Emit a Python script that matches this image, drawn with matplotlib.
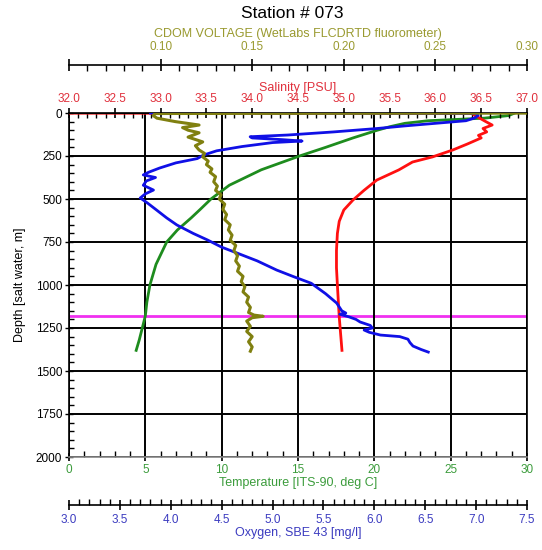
import numpy as np
import matplotlib
matplotlib.use('Agg')
import matplotlib.pyplot as plt
from matplotlib.ticker import MultipleLocator, FixedLocator, FixedFormatter, FormatStrFormatter

plt.rcParams['font.family'] = ['Liberation Sans', 'DejaVu Sans']

# Temperature profile (green)
temp_depth = [0, 15, 30, 45, 60, 80, 100, 145, 200, 250, 330, 420, 500, 560, 610, 680, 750, 880, 1000, 1100, 1180, 1250, 1320, 1380]
temp = [29.2, 28.8, 27.2, 23.5, 22.0, 21.0, 20.2, 18.6, 16.8, 15.1, 12.6, 10.5, 9.3, 8.6, 8.0, 7.1, 6.4, 5.7, 5.3, 5.1, 5.0, 4.8, 4.6, 4.4]

# Salinity profile (red)
sal_depth = [0, 3, 20, 50, 70, 90, 110, 130, 145, 180, 215, 255, 285, 331, 390, 450, 506, 564, 630, 700, 800, 900, 1000, 1185, 1380]
sal = [30.0, 36.4, 36.45, 36.55, 36.62, 36.52, 36.56, 36.47, 36.5, 36.35, 36.19, 35.97, 35.75, 35.6, 35.36, 35.22, 35.1, 35.0, 34.95, 34.93, 34.92, 34.92, 34.93, 34.95, 34.98]

# Oxygen profile (blue)
oxy_depth = [0, 2, 15, 30, 45, 60, 75, 90, 110, 128, 138, 145, 155, 163, 172, 195, 220, 245, 265, 290, 320, 345, 360, 375,
             395, 420, 448, 470, 494, 523, 564, 610, 651, 700, 738, 780, 814, 860, 913, 950, 990, 1050, 1105, 1150, 1163,
             1170, 1185, 1200, 1215, 1235, 1250, 1262, 1275, 1291, 1300, 1315, 1335, 1355, 1375, 1390]
oxy = [3.8, 7.0, 7.02, 6.98, 6.9, 6.6, 6.3, 6.03, 5.6, 5.15, 4.78, 4.8, 5.1, 5.29, 5.0, 4.7, 4.45, 4.32, 4.26, 4.05, 3.89, 3.78, 3.73, 3.85,
       3.76, 3.73, 3.83, 3.75, 3.70, 3.77, 3.86, 3.96, 4.06, 4.22, 4.36, 4.5, 4.65, 4.85, 5.04, 5.2, 5.38, 5.52, 5.63, 5.68, 5.72,
       5.66, 5.75, 5.82, 5.86, 5.96, 5.98, 5.90, 5.95, 6.06, 6.25, 6.33, 6.35, 6.38, 6.46, 6.53]

# CDOM voltage profile (olive)
cdom_depth = [0, 3, 15, 30, 50, 70, 85, 100, 115, 140, 168, 190, 215, 235, 255, 280, 300, 325, 345, 370, 400, 425, 450, 475,
              500, 530, 560, 590, 620, 650, 680, 710, 740, 770, 800, 830, 860, 890, 920, 950, 980, 1010, 1040, 1070, 1100,
              1130, 1160, 1175, 1182, 1190, 1210, 1240, 1270, 1300, 1330, 1360, 1385]
cdom = [0.35, 0.097, 0.096, 0.098, 0.108, 0.121, 0.112, 0.115, 0.121, 0.115, 0.123, 0.119, 0.121, 0.124, 0.123, 0.126, 0.125, 0.128, 0.127, 0.130, 0.129, 0.131, 0.130, 0.133,
        0.132, 0.135, 0.134, 0.136, 0.135, 0.138, 0.137, 0.139, 0.138, 0.141, 0.140, 0.142, 0.141, 0.143, 0.142, 0.145, 0.144, 0.146, 0.145, 0.148, 0.147,
        0.149, 0.148, 0.151, 0.156, 0.150, 0.147, 0.149, 0.147, 0.150, 0.148, 0.150, 0.149]

marker_depth = 1180

c_temp = '#1e8c1e'
c_sal = '#ff1010'
c_oxy = '#1010e6'
c_cdom = '#808010'
t_temp = '#3c9c3c'
t_sal = '#e0303c'
t_oxy = '#3c3cc0'
t_cdom = '#9a9a30'
fs = 8.5
offset = 48 * 72 / 100  # 48 px expressed in points

fig = plt.figure(figsize=(5.42, 5.5), dpi=100)
ax = fig.add_axes([69 / 542, 1 - 457 / 550, 458 / 542, 344 / 550])

# main axes: temperature / depth
ax.set_xlim(0, 30)
ax.set_ylim(2000, 0)
ax.xaxis.set_major_locator(MultipleLocator(5))
ax.xaxis.set_minor_locator(MultipleLocator(1))
ax.yaxis.set_major_locator(MultipleLocator(250))
ax.yaxis.set_minor_locator(MultipleLocator(50))
ax.grid(True, which='major', color='black', lw=1.4)
ax.tick_params(axis='x', which='major', direction='inout', length=6, width=1.2, labelsize=fs, labelcolor=t_temp, pad=2)
ax.tick_params(axis='x', which='minor', direction='in', length=4.3, width=1.0)
ax.tick_params(axis='y', which='major', direction='inout', length=6, width=1.0, labelsize=fs, pad=2)
ax.tick_params(axis='y', which='minor', direction='in', length=3.6, width=1.0)
ax.set_xlabel('Temperature [ITS-90, deg C]', color=t_temp, fontsize=fs + 0.5, labelpad=1)
ax.set_ylabel('Depth [salt water, m]', fontsize=fs + 0.5, labelpad=7)
for s in ax.spines.values():
    s.set_linewidth(1.2)
ax.spines['bottom'].set_color('#888888')
ax.axhline(marker_depth, color='#f030f0', lw=2, zorder=1)

# salinity axis (top)
ax_s = ax.twiny()
ax_s.set_xlim(32, 37)
ax_s.plot(sal, sal_depth, color=c_sal, lw=2)
ax_s.xaxis.set_major_locator(MultipleLocator(0.5))
ax_s.xaxis.set_minor_locator(MultipleLocator(0.1))
ax_s.xaxis.set_major_formatter(FormatStrFormatter('%.1f'))
ax_s.tick_params(axis='x', which='major', direction='inout', length=7, width=1.2, labelsize=fs, labelcolor=t_sal, pad=2)
ax_s.tick_params(axis='x', which='minor', direction='in', length=3.6, width=1.0)
ax_s.set_xlabel('Salinity [PSU]', color=t_sal, fontsize=fs + 0.5, labelpad=2)
for k in ['left', 'right', 'bottom']:
    ax_s.spines[k].set_visible(False)

ax.plot(temp, temp_depth, color=c_temp, lw=2)

# oxygen axis (bottom, offset)
ax_o = ax.twiny()
ax_o.set_xlim(3.0, 7.5)
ax_o.plot(oxy, oxy_depth, color=c_oxy, lw=2)
ax_o.xaxis.set_ticks_position('bottom')
ax_o.xaxis.set_label_position('bottom')
ax_o.spines['bottom'].set_position(('outward', offset))
ax_o.spines['bottom'].set_linewidth(1.2)
for k in ['left', 'right', 'top']:
    ax_o.spines[k].set_visible(False)
ax_o.xaxis.set_major_locator(MultipleLocator(0.5))
ax_o.xaxis.set_minor_locator(MultipleLocator(0.1))
ax_o.xaxis.set_major_formatter(FormatStrFormatter('%.1f'))
ax_o.tick_params(axis='x', which='major', direction='inout', length=7, width=1.2, labelsize=fs, labelcolor=t_oxy, pad=3)
ax_o.tick_params(axis='x', which='minor', direction='in', length=4.3, width=1.0)
ax_o.set_xlabel('Oxygen, SBE 43 [mg/l]', color=t_oxy, fontsize=fs + 0.5, labelpad=1)

# CDOM axis (top, offset)
ax_c = ax.twiny()
ax_c.set_xlim(0.05, 0.30)
ax_c.plot(cdom, cdom_depth, color=c_cdom, lw=2.2)
ax_c.spines['top'].set_position(('outward', offset))
ax_c.spines['top'].set_linewidth(1.2)
for k in ['left', 'right', 'bottom']:
    ax_c.spines[k].set_visible(False)
cdom_ticks = [0.05, 0.10, 0.15, 0.20, 0.25, 0.30]
ax_c.xaxis.set_major_locator(FixedLocator(cdom_ticks))
ax_c.xaxis.set_major_formatter(FixedFormatter([''] + ['%.2f' % v for v in cdom_ticks[1:]]))
ax_c.xaxis.set_minor_locator(MultipleLocator(0.01))
ax_c.tick_params(axis='x', which='major', direction='inout', length=8.6, width=1.2, labelsize=fs, labelcolor=t_cdom, pad=4)
ax_c.tick_params(axis='x', which='minor', direction='in', length=4.3, width=1.0)
ax_c.set_xlabel('CDOM VOLTAGE (WetLabs FLCDRTD fluorometer)', color=t_cdom, fontsize=fs + 0.5, labelpad=3)

fig.text(292 / 542, 1 - 14 / 550, 'Station # 073', ha='center', va='center', fontsize=12.5)

fig.savefig('out.png', dpi=100)
